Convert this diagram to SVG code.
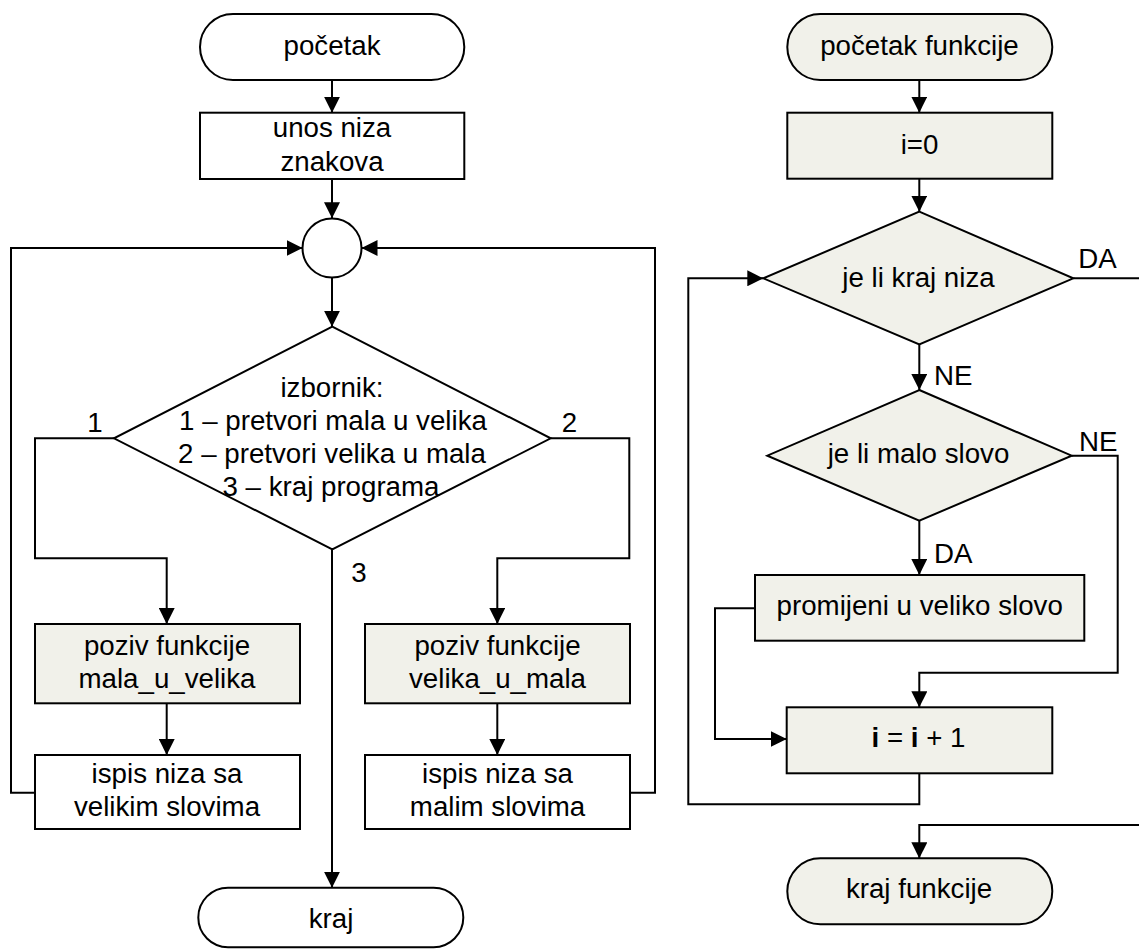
<svg xmlns="http://www.w3.org/2000/svg" width="1139" height="949" viewBox="0 0 1139 949">
<defs>
<style>
.s{stroke:#000;stroke-width:2;fill:#fff}
.g{stroke:#000;stroke-width:2;fill:#F1F1EA}
.c{stroke:#000;stroke-width:2;fill:none}
text{font-family:"Liberation Sans",Arial,sans-serif;font-size:27.7px;fill:#000}
.m{text-anchor:middle}
</style>
<marker id="a" viewBox="0 0 16 16" refX="16" refY="8" markerWidth="16" markerHeight="16" markerUnits="userSpaceOnUse" orient="auto">
<path d="M0,0 L16,8 L0,16 z" fill="#000"/>
</marker>
</defs>
<rect width="1139" height="949" fill="#fff"/>

<g id="connectors">
<path class="c" d="M332,80 V112.7" marker-end="url(#a)"/>
<path class="c" d="M332,179 V218.3" marker-end="url(#a)"/>
<path class="c" d="M332,277.5 V326.7" marker-end="url(#a)"/>
<path class="c" d="M114,438.3 H35 V558.3 H166.7 V624" marker-end="url(#a)"/>
<path class="c" d="M550.7,438.3 H629.3 V558.3 H497.3 V624" marker-end="url(#a)"/>
<path class="c" d="M332,549.3 V887.7" marker-end="url(#a)"/>
<path class="c" d="M166.7,703.3 V755" marker-end="url(#a)"/>
<path class="c" d="M497.3,703.3 V755" marker-end="url(#a)"/>
<path class="c" d="M35,792.7 H11 V248 H302.5" marker-end="url(#a)"/>
<path class="c" d="M630,792.7 H655 V248 H361.5" marker-end="url(#a)"/>

<path class="c" d="M919.3,80 V112.7" marker-end="url(#a)"/>
<path class="c" d="M919.3,178.7 V211.7" marker-end="url(#a)"/>
<path class="c" d="M919.3,344.3 V390" marker-end="url(#a)"/>
<path class="c" d="M1071.7,455.7 H1117.7 V672.7 H919.3 V707.3" marker-end="url(#a)"/>
<path class="c" d="M919.3,520.7 V575" marker-end="url(#a)"/>
<path class="c" d="M755,608.3 H715 V739 H786.7" marker-end="url(#a)"/>
<path class="c" d="M919.3,773.3 V804.3 H688.3 V278.3 H763.3" marker-end="url(#a)"/>
<path class="c" d="M1073.3,278.3 H1150 V825 H919.3 V858.3" marker-end="url(#a)"/>
</g>

<g id="pocetak">
<rect class="s" x="200" y="14" width="264.3" height="66" rx="33"/>
<text class="m" x="332" y="55">početak</text>
</g>
<g id="unos">
<rect class="s" x="200" y="112.7" width="264.3" height="66.3"/>
<text class="m" x="332" y="136.7">unos niza</text>
<text class="m" x="332" y="170.7">znakova</text>
</g>
<g id="spoj">
<circle class="s" cx="332" cy="248" r="29.5"/>
</g>
<g id="izbornik">
<polygon class="s" points="332.3,326.7 550.7,438.3 332.3,549.3 114,438.3"/>
<text class="m" x="332" y="397">izbornik:</text>
<text class="m" x="333" y="430">1 – pretvori mala u velika</text>
<text class="m" x="332" y="463">2 – pretvori velika u mala</text>
<text class="m" x="331" y="496">3 – kraj programa</text>
</g>
<g id="labels-left">
<text class="m" x="95" y="431.7">1</text>
<text class="m" x="569.5" y="431.7">2</text>
<text class="m" x="359" y="581.7">3</text>
</g>
<g id="poziv1">
<rect class="g" x="35" y="624" width="265" height="79.3"/>
<text class="m" x="167" y="655">poziv funkcije</text>
<text class="m" x="167" y="688.3">mala_u_velika</text>
</g>
<g id="poziv2">
<rect class="g" x="365" y="624" width="265" height="79.3"/>
<text class="m" x="497.5" y="655">poziv funkcije</text>
<text class="m" x="497.5" y="688.3">velika_u_mala</text>
</g>
<g id="ispis1">
<rect class="s" x="35" y="755" width="265" height="74"/>
<text class="m" x="167" y="783.3">ispis niza sa</text>
<text class="m" x="167" y="816">velikim slovima</text>
</g>
<g id="ispis2">
<rect class="s" x="365" y="755" width="265" height="74"/>
<text class="m" x="497.5" y="783.3">ispis niza sa</text>
<text class="m" x="497.5" y="816">malim slovima</text>
</g>
<g id="kraj">
<rect class="s" x="198.3" y="887.7" width="265" height="59.5" rx="29.7"/>
<text class="m" x="331" y="928">kraj</text>
</g>

<g id="pocetak-funkcije">
<rect class="g" x="787.3" y="14" width="265" height="66" rx="33"/>
<text class="m" x="919.5" y="55">početak funkcije</text>
</g>
<g id="i0">
<rect class="g" x="787.3" y="112.7" width="265" height="66"/>
<text class="m" x="919.5" y="154">i=0</text>
</g>
<g id="kraj-niza">
<polygon class="g" points="919.3,211.7 1073.3,278.3 919.3,344.3 763.3,278.3"/>
<text class="m" x="918.5" y="286.7">je li kraj niza</text>
</g>
<g id="malo-slovo">
<polygon class="g" points="919.3,390 1071.7,455.7 919.3,520.7 767.3,455.7"/>
<text class="m" x="918.5" y="463.3">je li malo slovo</text>
</g>
<g id="promijeni">
<rect class="g" x="755" y="575" width="329.3" height="65.7"/>
<text class="m" x="919.7" y="615">promijeni u veliko slovo</text>
</g>
<g id="inc">
<rect class="g" x="786.7" y="707.3" width="265.6" height="66"/>
<text class="m" x="918.5" y="747.3"><tspan font-weight="bold">i</tspan> = <tspan font-weight="bold">i</tspan> + 1</text>
</g>
<g id="kraj-funkcije">
<rect class="g" x="787.3" y="858.3" width="265" height="66" rx="33"/>
<text class="m" x="919" y="898.3">kraj funkcije</text>
</g>
<g id="labels-right">
<text x="1078.3" y="267.7">DA</text>
<text x="934" y="385">NE</text>
<text x="1079" y="450.7">NE</text>
<text x="934" y="563.3">DA</text>
</g>
</svg>
